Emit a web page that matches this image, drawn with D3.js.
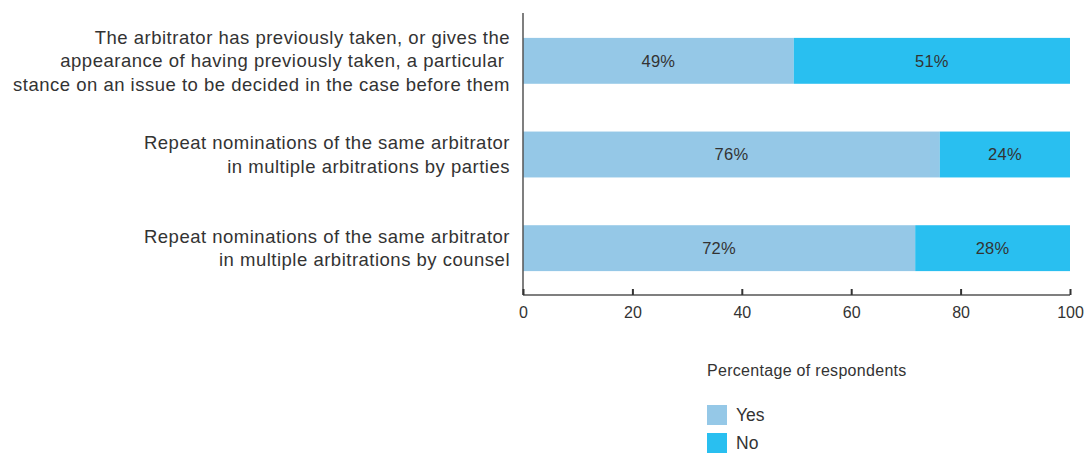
<!DOCTYPE html>
<html><head><meta charset="utf-8">
<script src="https://cdn.jsdelivr.net/npm/d3@7"></script>
<style>body{margin:0;background:#fff}svg text{font-family:"Liberation Sans",Arial,sans-serif;fill:#333}</style>
</head><body><svg id="c" width="1086" height="453"></svg>
<script>
const categories = [
  ["The arbitrator has previously taken, or gives the", "appearance of having previously taken, a particular ", "stance on an issue to be decided in the case before them"],
  ["Repeat nominations of the same arbitrator", "in multiple arbitrations by parties"],
  ["Repeat nominations of the same arbitrator", "in multiple arbitrations by counsel"]
];
const yesValues = [49.5, 76.2, 71.7];
const noValues = [50.5, 23.8, 28.3];
const yesLabels = ["49%", "76%", "72%"];
const noLabels = ["51%", "24%", "28%"];
const xTicks = [0, 20, 40, 60, 80, 100];
const seriesNames = ["Yes", "No"];
const colors = ["#95c8e7", "#29bff0"];

const svg = d3.select("#c");
const x = d3.scaleLinear().domain([0, 100]).range([523, 1070]);
const y = d3.scaleBand().domain(d3.range(categories.length)).range([14, 295]).paddingInner(0.51).paddingOuter(0.255);

const g = svg.append("g");
categories.forEach((c, i) => {
  g.append("rect").attr("x", x(0)).attr("y", y(i)).attr("width", x(yesValues[i]) - x(0)).attr("height", y.bandwidth()).attr("fill", colors[0]);
  g.append("rect").attr("x", x(yesValues[i])).attr("y", y(i)).attr("width", x(yesValues[i] + noValues[i]) - x(yesValues[i])).attr("height", y.bandwidth()).attr("fill", colors[1]);
  const cy = y(i) + y.bandwidth() / 2;
  g.append("text").attr("x", (x(0) + x(yesValues[i])) / 2).attr("y", cy).attr("dy", "0.35em").attr("text-anchor", "middle").style("font-size", "16.5px").style("letter-spacing", "0.3px").text(yesLabels[i]);
  g.append("text").attr("x", (x(yesValues[i]) + x(100)) / 2).attr("y", cy).attr("dy", "0.35em").attr("text-anchor", "middle").style("font-size", "16.5px").style("letter-spacing", "0.3px").text(noLabels[i]);
  const lh = 23.5;
  const t = g.append("text").attr("text-anchor", "end").style("font-size", "18.5px").style("letter-spacing", "0.5px");
  c.forEach((line, k) => {
    t.append("tspan").attr("x", 510).attr("y", cy + (k - (c.length - 1) / 2) * lh).attr("dy", "0.35em").style("white-space", "pre").text(line);
  });
});

// y axis line
svg.append("line").attr("x1", 523).attr("x2", 523).attr("y1", 13).attr("y2", 295).attr("stroke", "#555").attr("stroke-width", 1.5);

const xa = svg.append("g").attr("transform", "translate(0,295)")
  .call(d3.axisBottom(x).tickValues(xTicks).tickSize(-6).tickPadding(12).tickFormat(d3.format("d")));
xa.select(".domain").attr("stroke", "#555").attr("stroke-width", 1.5).attr("d", `M${x(0)},0H${x(100)}`);
xa.selectAll(".tick line").attr("stroke", "#333").attr("stroke-width", 2);
xa.selectAll(".tick text").style("font-size", "16px").style("font-family", "'Liberation Sans',Arial,sans-serif").attr("fill", "#444");

const lg = svg.append("g");
lg.append("text").attr("x", 707).attr("y", 370).attr("dy", "0.35em").style("font-size", "16px").style("letter-spacing", "0.3px").text("Percentage of respondents");
seriesNames.forEach((s, i) => {
  lg.append("rect").attr("x", 707).attr("y", 405 + i * 28).attr("width", 20).attr("height", 20).attr("fill", colors[i]);
  lg.append("text").attr("x", 736).attr("y", 415 + i * 28).attr("dy", "0.35em").style("font-size", "17.5px").text(s);
});
</script></body></html>
